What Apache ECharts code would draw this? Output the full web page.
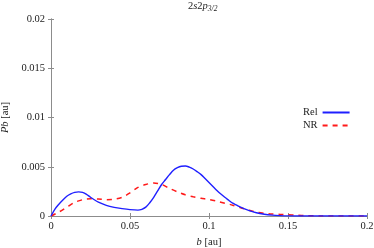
<!DOCTYPE html>
<html>
<head>
<meta charset="utf-8">
<script src="https://cdn.jsdelivr.net/npm/echarts@6/dist/echarts.min.js"></script>
<style>html,body{margin:0;padding:0;background:#fff}#c{width:374px;height:248px}</style>
</head>
<body>
<div id="c"></div>
<script>
const bValues = [0,0.0025,0.005,0.0075,0.01,0.0125,0.015,0.0175,0.02,0.0225,0.025,0.03,0.035,0.04,0.045,0.05,0.055,0.0575,0.06,0.0625,0.065,0.0675,0.07,0.0725,0.075,0.0775,0.08,0.0825,0.085,0.0875,0.09,0.0925,0.095,0.0975,0.1,0.1025,0.105,0.1075,0.11,0.1125,0.115,0.1175,0.12,0.1225,0.125,0.13,0.135,0.14,0.145,0.15,0.16,0.2];
const relValues = [0,0.0007,0.0012,0.00163,0.002,0.00225,0.0024,0.00245,0.0024,0.0022,0.0019,0.0014,0.00108,0.00088,0.00075,0.00065,0.0006,0.00068,0.0009,0.00135,0.0019,0.00255,0.0032,0.0037,0.0042,0.00465,0.0049,0.00505,0.00508,0.00497,0.00477,0.0045,0.0042,0.0038,0.0034,0.003,0.0026,0.00223,0.0019,0.0016,0.0013,0.0011,0.0009,0.00072,0.00057,0.00033,0.00018,0.00009,0.00004,0.00001,0,0];
const nrB = [0,0.005,0.01,0.015,0.02,0.025,0.03,0.035,0.04,0.045,0.05,0.055,0.06,0.065,0.07,0.075,0.08,0.085,0.09,0.095,0.1,0.105,0.11,0.115,0.12,0.125,0.13,0.135,0.14,0.145,0.15,0.155,0.16,0.17,0.2];
const nrValues = [0,0.0004,0.0009,0.00138,0.00165,0.00175,0.00172,0.00166,0.0017,0.0019,0.00234,0.0029,0.0032,0.00335,0.0032,0.0028,0.00245,0.00215,0.00195,0.0018,0.00167,0.0015,0.0013,0.0011,0.00083,0.0006,0.0004,0.00028,0.0002,0.00016,0.00012,0.00008,0.00004,0.00001,0];
const xTicks = [0,0.05,0.1,0.15,0.2];
const yTicks = [0,0.005,0.01,0.015,0.02];
const seriesNames = ['Rel','NR'];

const FONT = 'Liberation Serif';
const TXT = '#222';
const AX = '#8c8c8c';
const chart = echarts.init(document.getElementById('c'), null, {renderer:'canvas'});
const axisLine = {show:true, lineStyle:{color:AX, width:1}};
const tick = {show:true, inside:true, length:3, lineStyle:{color:AX}};
const it = {fontFamily:FONT,fontSize:10.5,fontStyle:'italic',fontWeight:'normal',color:TXT};
chart.setOption({
  animation:false,
  backgroundColor:'#fff',
  title:{
    text:'{n|2}{i|s}{n|2}{i|p}{s|3/2}',
    left:188, top:1, padding:0,
    textStyle:{fontWeight:'normal',rich:{
      n:{fontFamily:FONT,fontSize:10.5,fontWeight:'normal',color:TXT,verticalAlign:'top',lineHeight:12},
      i:{fontFamily:FONT,fontSize:10.5,fontStyle:'italic',fontWeight:'normal',color:TXT,verticalAlign:'top',lineHeight:12},
      s:{fontFamily:FONT,fontSize:7.5,fontStyle:'italic',fontWeight:'normal',color:TXT,verticalAlign:'bottom',lineHeight:8}
    }}
  },
  legend:{
    orient:'vertical', left:298, top:102, align:'right',
    itemWidth:27, itemHeight:8, itemGap:2,
    itemStyle:{opacity:0},
    textStyle:{fontFamily:FONT,fontSize:10.5,color:TXT,lineHeight:9},
    data:seriesNames
  },
  grid:{left:51,right:7,top:19,bottom:32,containLabel:false,outerBoundsMode:'none'},
  xAxis:[{
    type:'value', min:xTicks[0], max:xTicks[xTicks.length-1], interval:0.05,
    name:'{i|b} [au]', nameLocation:'middle', nameGap:20,
    nameTextStyle:{fontFamily:FONT,fontSize:10.5,color:TXT,rich:{i:it}},
    axisLine, axisTick:tick, splitLine:{show:false},
    axisLabel:{fontFamily:FONT,fontSize:10.5,color:TXT,margin:5,formatter:v=>String(+v.toFixed(3))}
  },{
    type:'value', position:'top', min:xTicks[0], max:xTicks[xTicks.length-1], interval:0.05,
    axisLine, axisTick:tick, axisLabel:{show:false}, splitLine:{show:false}
  }],
  yAxis:[{
    type:'value', min:yTicks[0], max:yTicks[yTicks.length-1], interval:0.005,
    name:'{i|Pb} [au]', nameLocation:'middle', nameGap:36,
    nameTextStyle:{fontFamily:FONT,fontSize:10.5,color:TXT,rich:{i:it}},
    axisLine, axisTick:tick, splitLine:{show:false},
    axisLabel:{fontFamily:FONT,fontSize:10.5,color:TXT,margin:6,formatter:v=>String(+v.toFixed(4))}
  },{
    type:'value', position:'right', min:yTicks[0], max:yTicks[yTicks.length-1], interval:0.005,
    axisLine, axisTick:tick, axisLabel:{show:false}, splitLine:{show:false}
  }],
  series:[{
    name:seriesNames[0], type:'line', smooth:0.3, showSymbol:false, symbol:'none',
    data:bValues.map((b,i)=>[b,relValues[i]]),
    lineStyle:{color:'#1f1fff',width:1.4}, itemStyle:{color:'#1f1fff'}, z:3
  },{
    name:seriesNames[1], type:'line', smooth:0.3, showSymbol:false, symbol:'none',
    data:nrB.map((b,i)=>[b,nrValues[i]]),
    lineStyle:{color:'#ff1a1a',width:1.5,type:[5,5]}, itemStyle:{color:'#ff1a1a'}, z:2
  }]
});
</script>
</body>
</html>
